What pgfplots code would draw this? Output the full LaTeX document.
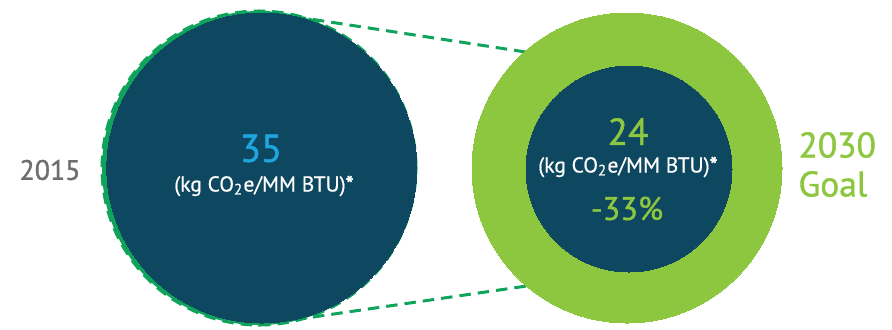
\documentclass[border=0pt]{standalone}
\usepackage{pgfplots}
\pgfplotsset{compat=1.18}
\usepackage{fontspec}
\setmainfont{PT Sans}
\newfontfamily\medfont{PT Sans}[FakeBold=1.2]
\newfontfamily\smfont{PT Sans}[FakeBold=0.6]
\definecolor{navy}{HTML}{0E4760}
\definecolor{lgreen}{HTML}{8DC63F}
\definecolor{dgreen}{HTML}{0FA35C}
\definecolor{nblue}{HTML}{1EA5DE}
\definecolor{tgray}{HTML}{6D6E71}
\begin{document}
\begin{tikzpicture}
\begin{axis}[
  scale only axis, width=356.8pt, height=131.6pt,
  xmin=0, xmax=892, ymin=0, ymax=329, y dir=reverse,
  axis lines=none, clip=false,
]
% dashed outline of 2015 circle (radius 157 px)
\addplot[dgreen, only marks, mark=*, mark size=62.8pt,
  mark options={fill=none, draw=dgreen, line width=1.2pt, dash pattern=on 4.6pt off 2.8pt}]
  coordinates {(259,168)};
% 2015 circle (radius 155 px)
\addplot[navy, only marks, mark=*, mark size=62pt, mark options={fill=navy, draw=navy, line width=0pt}]
  coordinates {(261.8,168)};
% 2030 goal ring (radius 155 px)
\addplot[lgreen, only marks, mark=*, mark size=62pt, mark options={fill=lgreen, draw=lgreen, line width=0pt}]
  coordinates {(627,168)};
% 2030 inner (radius 103 px)
\addplot[navy, only marks, mark=*, mark size=41.2pt, mark options={fill=navy, draw=navy, line width=0pt}]
  coordinates {(629,169)};
% connecting dashed lines
\addplot[dgreen, line width=1.2pt, dash pattern=on 4.6pt off 2.8pt, no marks]
  coordinates {(258,11) (617,66)};
\addplot[dgreen, line width=1.2pt, dash pattern=on 4.6pt off 2.8pt, no marks]
  coordinates {(258,325) (630,271)};
\coordinate (ll) at (axis cs:0,329);
\coordinate (ur) at (axis cs:892,0);
\coordinate (t35) at (axis cs:261,148.5);
\coordinate (u1) at (axis cs:264,186);
\coordinate (t24) at (axis cs:628,131.5);
\coordinate (u2) at (axis cs:628,167);
\coordinate (t33) at (axis cs:627,208.5);
\coordinate (t15) at (axis cs:50,170);
\coordinate (t30) at (axis cs:798,145);
\coordinate (tgo) at (axis cs:798,184);
\end{axis}
\path[use as bounding box] (ll) rectangle (ur);
\node[text=nblue, font=\medfont\fontsize{15.5}{16}\selectfont] at (t35) {35};
\node[text=white, font=\smfont\fontsize{8.6}{9}\selectfont] at (u1) {(kg CO\textsubscript{2}e/MM BTU)\textbf{*}};
\node[text=lgreen, font=\medfont\fontsize{15}{15}\selectfont] at (t24) {24};
\node[text=white, font=\smfont\fontsize{8.6}{9}\selectfont] at (u2) {(kg CO\textsubscript{2}e/MM BTU)\textbf{*}};
\node[text=lgreen, font=\medfont\fontsize{13}{13}\selectfont] at (t33) {-33\%};
\node[text=tgray, font=\medfont\fontsize{11.2}{11}\selectfont] at (t15) {2015};
\node[text=lgreen, font=\medfont\fontsize{14.2}{14}\selectfont, anchor=west, inner sep=0pt] at (t30) {2030};
\node[text=lgreen, font=\medfont\fontsize{14.2}{14}\selectfont, anchor=west, inner sep=0pt] at (tgo) {Goal};
\end{tikzpicture}
\end{document}
